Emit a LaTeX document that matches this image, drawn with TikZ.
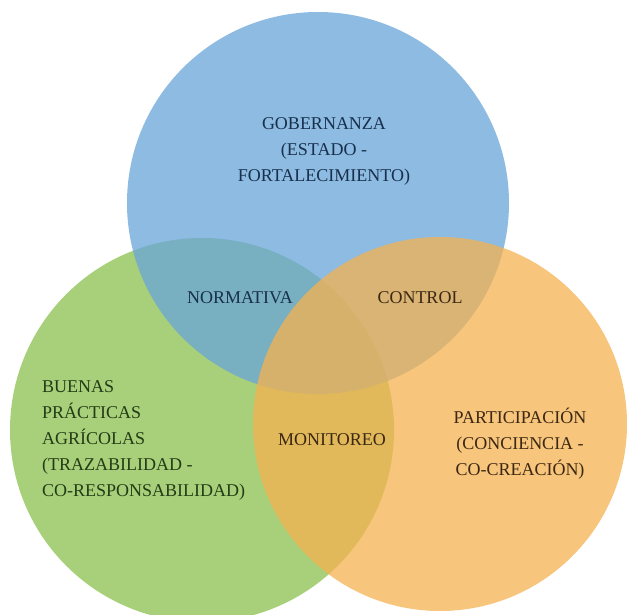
\documentclass[tikz,border=0pt]{standalone}
\usepackage{fontspec}
\setmainfont{Liberation Serif}
\begin{document}
\begin{tikzpicture}[x=1pt,y=-1pt,
  circ/.style={fill opacity=0.75,draw=none},
  lbl/.style={font=\fontsize{18}{26}\selectfont,inner sep=0pt},
  multi/.style={lbl,align=center}]
\definecolor{cblue}{RGB}{104,165,217}
\definecolor{cgreen}{RGB}{139,192,78}
\definecolor{corange}{RGB}{245,178,80}
\definecolor{tblue}{RGB}{24,48,76}
\definecolor{tgreen}{RGB}{36,60,22}
\definecolor{tbrown}{RGB}{60,40,18}
\useasboundingbox (0,0) rectangle (627,615);
\clip (0,0) rectangle (627,615);
\fill[white] (0,0) rectangle (627,615);
\fill[circ,cgreen] (202,430) circle[radius=192];
\fill[circ,cblue] (318,203) circle[radius=191];
\fill[circ,corange] (440,424) circle[radius=187];
\node[multi,text=tblue] (gob) at (324,151) {GOBERNANZA\\(ESTADO -\\FORTALECIMIENTO)};
\node[lbl,text=tblue] (norm) at (240,298) {NORMATIVA};
\node[lbl,text=tbrown] (ctrl) at (420,298) {CONTROL};
\node[lbl,text=tbrown] (mon) at (332,440) {MONITOREO};
\node[lbl,align=left,text=tgreen,anchor=west] (bpa) at (42,440) {BUENAS\\PRÁCTICAS\\AGRÍCOLAS\\(TRAZABILIDAD -\\CO-RESPONSABILIDAD)};
\node[multi,text=tbrown] (part) at (520,444) {PARTICIPACIÓN\\(CONCIENCIA -\\CO-CREACIÓN)};
\end{tikzpicture}
\end{document}
